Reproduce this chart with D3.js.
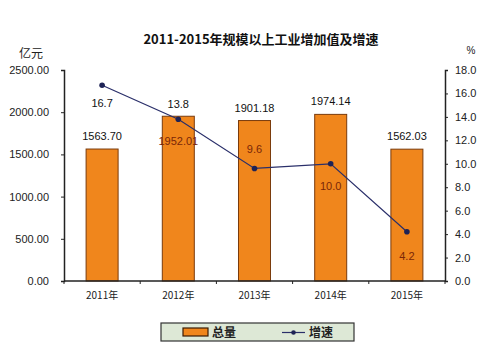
<!DOCTYPE html>
<html>
<head>
<meta charset="utf-8">
<script src="https://cdn.jsdelivr.net/npm/d3@7"></script>
<style>
  body { margin: 0; background: #fff; }
  svg { display: block; font-family: "Liberation Sans", Arial, "Noto Sans CJK SC", sans-serif; }
</style>
</head>
<body>
<div id="chart"></div>
<script>
// data
const years = ['2011年', '2012年', '2013年', '2014年', '2015年'];
const totals = [1563.70, 1952.01, 1901.18, 1974.14, 1562.03];
const growth = [16.7, 13.8, 9.6, 10.0, 4.2];
const leftTicks = [0, 500, 1000, 1500, 2000, 2500];
const rightTicks = [0, 2, 4, 6, 8, 10, 12, 14, 16, 18];

// label placement: 'above' / 'inside' (dark text inside bar)
const totalLabelPos = ['above', 'inside', 'above', 'above', 'above'];
const growthLabelPos = ['above', 'above', 'above', 'below', 'below'];

const W = 500, H = 363;
const plot = { left: 64, right: 445, top: 70, bottom: 281 };

const svg = d3.select('#chart').append('svg')
    .attr('width', W)
    .attr('height', H);

const x = d3.scaleBand()
    .domain(years)
    .range([plot.left, plot.right])
    .paddingInner(0.58)
    .paddingOuter(0.29);

const yL = d3.scaleLinear().domain([0, 2500]).range([plot.bottom, plot.top]);
const yR = d3.scaleLinear().domain([0, 18]).range([plot.bottom, plot.top]);

const axisColor = '#222';
const darkLabel = '#7a2608';

// title
svg.append('text')
    .attr('x', 261).attr('y', 44)
    .attr('text-anchor', 'middle')
    .style('font-family', '"Noto Sans CJK SC", sans-serif')
    .style('font-size', '13px')
    .style('font-weight', 'bold')
    .attr('fill', '#111')
    .text('2011-2015年规模以上工业增加值及增速');

// unit labels
svg.append('text')
    .attr('x', 31).attr('y', 58)
    .attr('text-anchor', 'middle')
    .style('font-family', '"Noto Sans CJK SC", sans-serif')
    .style('font-size', '12px')
    .attr('fill', '#222')
    .text('亿元');
svg.append('text')
    .attr('x', 471).attr('y', 54)
    .attr('text-anchor', 'middle')
    .style('font-size', '10px')
    .attr('fill', '#222')
    .text('%');

// bars
svg.append('g').selectAll('rect')
    .data(totals)
    .enter()
    .append('rect')
    .attr('x', (d, i) => x(years[i]))
    .attr('y', d => yL(d))
    .attr('width', x.bandwidth())
    .attr('height', d => yL(0) - yL(d))
    .attr('fill', '#f0861c')
    .attr('stroke', '#7a3b0c')
    .attr('stroke-width', 1);

// left axis
const gL = svg.append('g')
    .attr('transform', `translate(${plot.left},0)`)
    .call(d3.axisLeft(yL).tickValues(leftTicks).tickSize(3).tickPadding(12).tickFormat(d3.format('.2f')));
// right axis
const gR = svg.append('g')
    .attr('transform', `translate(${plot.right},0)`)
    .call(d3.axisRight(yR).tickValues(rightTicks).tickSize(3).tickPadding(7).tickFormat(d3.format('.1f')));
// bottom axis with ticks at category boundaries
const gB = svg.append('g')
    .attr('transform', `translate(0,${plot.bottom})`)
    .call(d3.axisBottom(x).tickSize(0).tickPadding(11));
const step = x.step();
gB.selectAll('.boundary')
    .data(d3.range(years.length + 1))
    .enter()
    .append('line')
    .attr('x1', i => plot.left + i * step)
    .attr('x2', i => plot.left + i * step)
    .attr('y1', 0).attr('y2', 3)
    .attr('stroke', axisColor);

[gL, gR, gB].forEach(g => {
    g.select('.domain').attr('stroke', axisColor).attr('stroke-width', 1.5);
    g.selectAll('.tick line').attr('stroke', axisColor);
    g.selectAll('text').attr('fill', '#222').style('font-size', '11px');
});
gB.selectAll('text')
    .style('font-family', '"Noto Sans CJK SC", sans-serif')
    .style('font-size', '10px');
gB.select('.domain').attr('d', `M${plot.left},0H${plot.right}`);

// growth line
const line = d3.line()
    .x((d, i) => x(years[i]) + x.bandwidth() / 2)
    .y(d => yR(d));
svg.append('path')
    .datum(growth)
    .attr('d', line)
    .attr('fill', 'none')
    .attr('stroke', '#2a2f6a')
    .attr('stroke-width', 1.2);
svg.append('g').selectAll('circle')
    .data(growth)
    .enter()
    .append('circle')
    .attr('cx', (d, i) => x(years[i]) + x.bandwidth() / 2)
    .attr('cy', d => yR(d))
    .attr('r', 2.8)
    .attr('fill', '#1e2356');

// bar value labels
svg.append('g').selectAll('text')
    .data(totals)
    .enter()
    .append('text')
    .attr('x', (d, i) => x(years[i]) + x.bandwidth() / 2)
    .attr('y', (d, i) => totalLabelPos[i] === 'inside' ? yL(d) + 29 : yL(d) - 9)
    .attr('text-anchor', 'middle')
    .style('font-size', '11px')
    .attr('fill', (d, i) => totalLabelPos[i] === 'inside' ? darkLabel : '#111')
    .text(d => d3.format('.2f')(d));

// growth value labels
const growthLabelX = [101, 178, 256, 331, 407];
const growthLabelDy = [22, -11, -15, 26, 28];
svg.append('g').selectAll('text')
    .data(growth)
    .enter()
    .append('text')
    .attr('x', (d, i) => x(years[i]) + x.bandwidth() / 2)
    .attr('y', (d, i) => yR(d) + growthLabelDy[i])
    .attr('text-anchor', 'middle')
    .style('font-size', '11px')
    .attr('fill', (d, i) => i >= 2 ? darkLabel : '#111')
    .text(d => d3.format('.1f')(d));

// legend
const lg = svg.append('g').attr('transform', 'translate(161,323)');
lg.append('rect')
    .attr('width', 193).attr('height', 18)
    .attr('fill', '#dde8d6')
    .attr('stroke', '#333')
    .attr('stroke-width', 1.2);
lg.append('rect')
    .attr('x', 22).attr('y', 5).attr('width', 25).attr('height', 8)
    .attr('fill', '#f0861c').attr('stroke', '#3a1c04').attr('stroke-width', 1.2);
lg.append('text')
    .attr('x', 51).attr('y', 14)
    .style('font-family', '"Noto Sans CJK SC", sans-serif')
    .style('font-size', '12px').style('font-weight', 'bold')
    .attr('fill', '#222').text('总量');
lg.append('line')
    .attr('x1', 121).attr('x2', 144).attr('y1', 9.5).attr('y2', 9.5)
    .attr('stroke', '#2a2f6a').attr('stroke-width', 1.2);
lg.append('circle')
    .attr('cx', 132.5).attr('cy', 9.5).attr('r', 2.3).attr('fill', '#1e2356');
lg.append('text')
    .attr('x', 148).attr('y', 14)
    .style('font-family', '"Noto Sans CJK SC", sans-serif')
    .style('font-size', '12px').style('font-weight', 'bold')
    .attr('fill', '#222').text('增速');
</script>
</body>
</html>
